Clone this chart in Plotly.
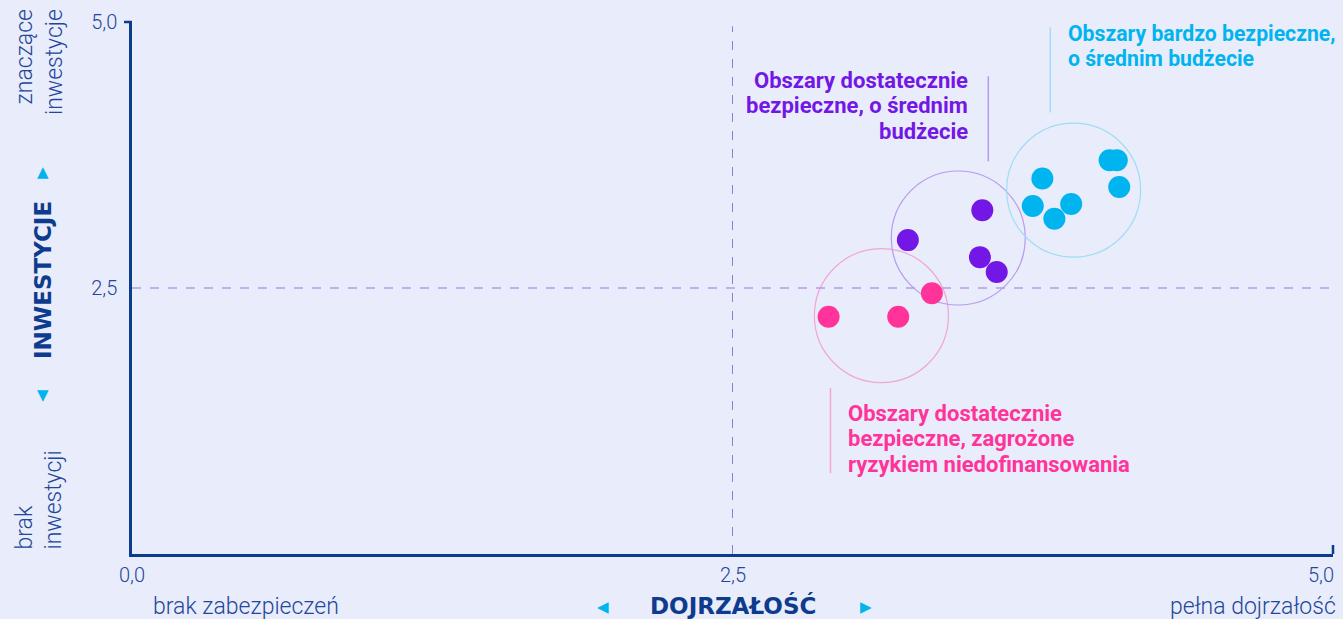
import plotly.graph_objects as go

# ---- data ----
pink_x = [2.90, 3.19, 3.33]
pink_y = [2.23, 2.23, 2.45]
purple_x = [3.23, 3.54, 3.53, 3.60]
purple_y = [2.95, 3.23, 2.79, 2.65]
cyan_x = [3.79, 3.75, 3.84, 3.91, 4.07, 4.10, 4.11]
cyan_y = [3.53, 3.27, 3.15, 3.29, 3.70, 3.70, 3.45]

cluster_cx = [3.12, 3.44, 3.92]
cluster_cy = [2.24, 2.97, 3.42]

label_pink = ["Obszary dostatecznie", "bezpieczne, zagrożone", "ryzykiem niedofinansowania"]
label_purple = ["Obszary dostatecznie", "bezpieczne, o średnim", "budżecie"]
label_cyan = ["Obszary bardzo bezpieczne,", "o średnim budżecie"]

x_title = "DOJRZAŁOŚĆ"
y_title = "INWESTYCJE"
x_low, x_high = "brak zabezpieczeń", "pełna dojrzałość"
y_low, y_high = "brak<br>inwestycji", "znaczące<br>inwestycje"
tick_vals = [0, 2.5, 5]
tick_text = ["0,0", "2,5", "5,0"]

# ---- styles ----
PINK = "#FF3399"
PURPLE = "#7317E6"
CYAN = "#00B4EF"
PINK_L = "#F2A6D3"
PURPLE_L = "#B79AF0"
CYAN_L = "#9EDDF6"
NAVY = "#0D3B8E"
TEXT = "#22479A"
BG = "#E9ECFA"
LIGHT = "Roboto, 'Liberation Sans', Arial, sans-serif"
BOLD = "Roboto, 'Liberation Sans', Arial, sans-serif"
HEAVY = "'DejaVu Sans', Arial, sans-serif"

fig = go.Figure()

for xs, ys, c in [(pink_x, pink_y, PINK), (purple_x, purple_y, PURPLE), (cyan_x, cyan_y, CYAN)]:
    fig.add_trace(go.Scatter(x=xs, y=ys, mode="markers",
                             marker=dict(size=22, color=c, line=dict(width=0)),
                             hoverinfo="x+y", showlegend=False))

shapes = []
for cx, cy, col in zip(cluster_cx, cluster_cy, [PINK_L, PURPLE_L, CYAN_L]):
    shapes.append(dict(type="circle", xref="x", yref="y",
                       xsizemode="pixel", ysizemode="pixel",
                       xanchor=cx, yanchor=cy, x0=-67, x1=67, y0=-67, y1=67,
                       line=dict(color=col, width=1.2), layer="below"))

shapes.append(dict(type="line", xref="x", yref="y", x0=2.5, x1=2.5, y0=0, y1=4.96,
                   line=dict(color="#8C7FD0", width=1, dash="dash"), layer="below"))
shapes.append(dict(type="line", xref="x", yref="y", x0=0, x1=5, y0=2.5, y1=2.5,
                   line=dict(color="#B79AE6", width=1.3, dash="dash"), layer="below"))

shapes.append(dict(type="line", xref="x", yref="y", x0=3.565, x1=3.565, y0=3.69, y1=4.49,
                   line=dict(color=PURPLE_L, width=1.5)))
shapes.append(dict(type="line", xref="x", yref="y", x0=3.823, x1=3.823, y0=4.15, y1=4.95,
                   line=dict(color=CYAN_L, width=1.5)))
shapes.append(dict(type="line", xref="x", yref="y", x0=2.908, x1=2.908, y0=0.76, y1=1.56,
                   line=dict(color=PINK_L, width=1.5)))

# end ticks
shapes.append(dict(type="line", xref="paper", yref="paper", xsizemode="pixel", xanchor=0,
                   x0=-8, x1=0, y0=1, y1=1, line=dict(color=NAVY, width=2.5)))
shapes.append(dict(type="line", xref="paper", yref="paper", ysizemode="pixel", yanchor=0,
                   x0=1, x1=1, y0=0, y1=9, line=dict(color=NAVY, width=2.5)))

ann = []


def add_lines(lines, x, y_top_px, xanchor, color, size=22):
    # each line as its own annotation so that line spacing is tight
    for i, t in enumerate(lines):
        ann.append(dict(x=x, y=1, xref="x", yref="paper", text=t, showarrow=False,
                        xanchor=xanchor, yanchor="middle", yshift=-(y_top_px + 25.5 * i),
                        font=dict(family=BOLD, size=size, color=color, weight="bold")))


# pixel offsets below plot top (plot top = 17px)
add_lines(label_purple, 3.49, 58, "right", PURPLE)
add_lines(label_cyan, 3.887, 11, "left", CYAN, size=21.2)
add_lines(label_pink, 2.974, 391, "left", PINK)

tickfont = dict(family=LIGHT, size=20, color=TEXT, weight=300)
ann.append(dict(x=tick_vals[0], y=0, xref="x", yref="paper", text=tick_text[0], showarrow=False,
                xanchor="center", yanchor="middle", yshift=-21, font=tickfont))
ann.append(dict(x=tick_vals[1], y=0, xref="x", yref="paper", text=tick_text[1], showarrow=False,
                xanchor="center", yanchor="middle", yshift=-21, font=tickfont))
ann.append(dict(x=tick_vals[2], y=0, xref="x", yref="paper", text=tick_text[2], showarrow=False,
                xanchor="right", yanchor="middle", yshift=-21, xshift=3, font=tickfont))

sidefont = dict(family=LIGHT, size=23, color=TEXT, weight=300)
ann.append(dict(x=0, y=0, xref="x", yref="paper", text=x_low, showarrow=False,
                xanchor="left", yanchor="middle", yshift=-52, xshift=19, font=sidefont))
ann.append(dict(x=5, y=0, xref="x", yref="paper", text=x_high, showarrow=False,
                xanchor="right", yanchor="middle", yshift=-52, xshift=5, font=sidefont))
ann.append(dict(x=2.5, y=0, xref="x", yref="paper", text="<b>" + x_title + "</b>", showarrow=False,
                xanchor="center", yanchor="middle", yshift=-51,
                font=dict(family=HEAVY, size=23, color=NAVY)))
ann.append(dict(x=2.5, y=0, xref="x", yref="paper", text="◀", showarrow=False,
                xanchor="center", yanchor="middle", yshift=-53, xshift=-130,
                font=dict(family="DejaVu Sans", size=15, color=CYAN)))
ann.append(dict(x=2.5, y=0, xref="x", yref="paper", text="▶", showarrow=False,
                xanchor="center", yanchor="middle", yshift=-53, xshift=133,
                font=dict(family="DejaVu Sans", size=15, color=CYAN)))

ann.append(dict(x=0, y=2.5, xref="paper", yref="y", text="<b>" + y_title + "</b>", showarrow=False,
                textangle=-90, xanchor="center", yanchor="middle", xshift=-89, yshift=8,
                font=dict(family=HEAVY, size=23, color=NAVY)))
ann.append(dict(x=0, y=2.5, xref="paper", yref="y", text="▲", showarrow=False,
                xanchor="center", yanchor="middle", xshift=-89, yshift=116,
                font=dict(family="DejaVu Sans", size=15, color=CYAN)))
ann.append(dict(x=0, y=2.5, xref="paper", yref="y", text="▼", showarrow=False,
                xanchor="center", yanchor="middle", xshift=-89, yshift=-107,
                font=dict(family="DejaVu Sans", size=15, color=CYAN)))
ann.append(dict(x=0, y=1, xref="paper", yref="paper", text=y_high, showarrow=False,
                textangle=-90, xanchor="center", yanchor="top", align="right",
                xshift=-93, yshift=15, font=sidefont))
ann.append(dict(x=0, y=0, xref="paper", yref="paper", text=y_low, showarrow=False,
                textangle=-90, xanchor="center", yanchor="bottom", align="left",
                xshift=-93, yshift=2, font=sidefont))

fig.update_layout(
    width=1343, height=619,
    margin=dict(l=132, r=10, t=17, b=65),
    paper_bgcolor=BG, plot_bgcolor=BG,
    shapes=shapes, annotations=ann,
    showlegend=False,
    xaxis=dict(range=[0, 5], showgrid=False, zeroline=False, showline=True,
               linecolor=NAVY, linewidth=2.5, ticks="", showticklabels=False,
               fixedrange=True),
    yaxis=dict(range=[0, 5], showgrid=False, zeroline=False, showline=True,
               linecolor=NAVY, linewidth=2.5, ticks="",
               tickvals=tick_vals[1:], ticktext=tick_text[1:],
               tickfont=tickfont, ticklabelstandoff=8, fixedrange=True),
)

fig.write_html("out.html", config={"displayModeBar": False},
               post_script="document.body.style.margin='0px';document.body.style.overflow='hidden';document.body.style.background='" + BG + "';")
